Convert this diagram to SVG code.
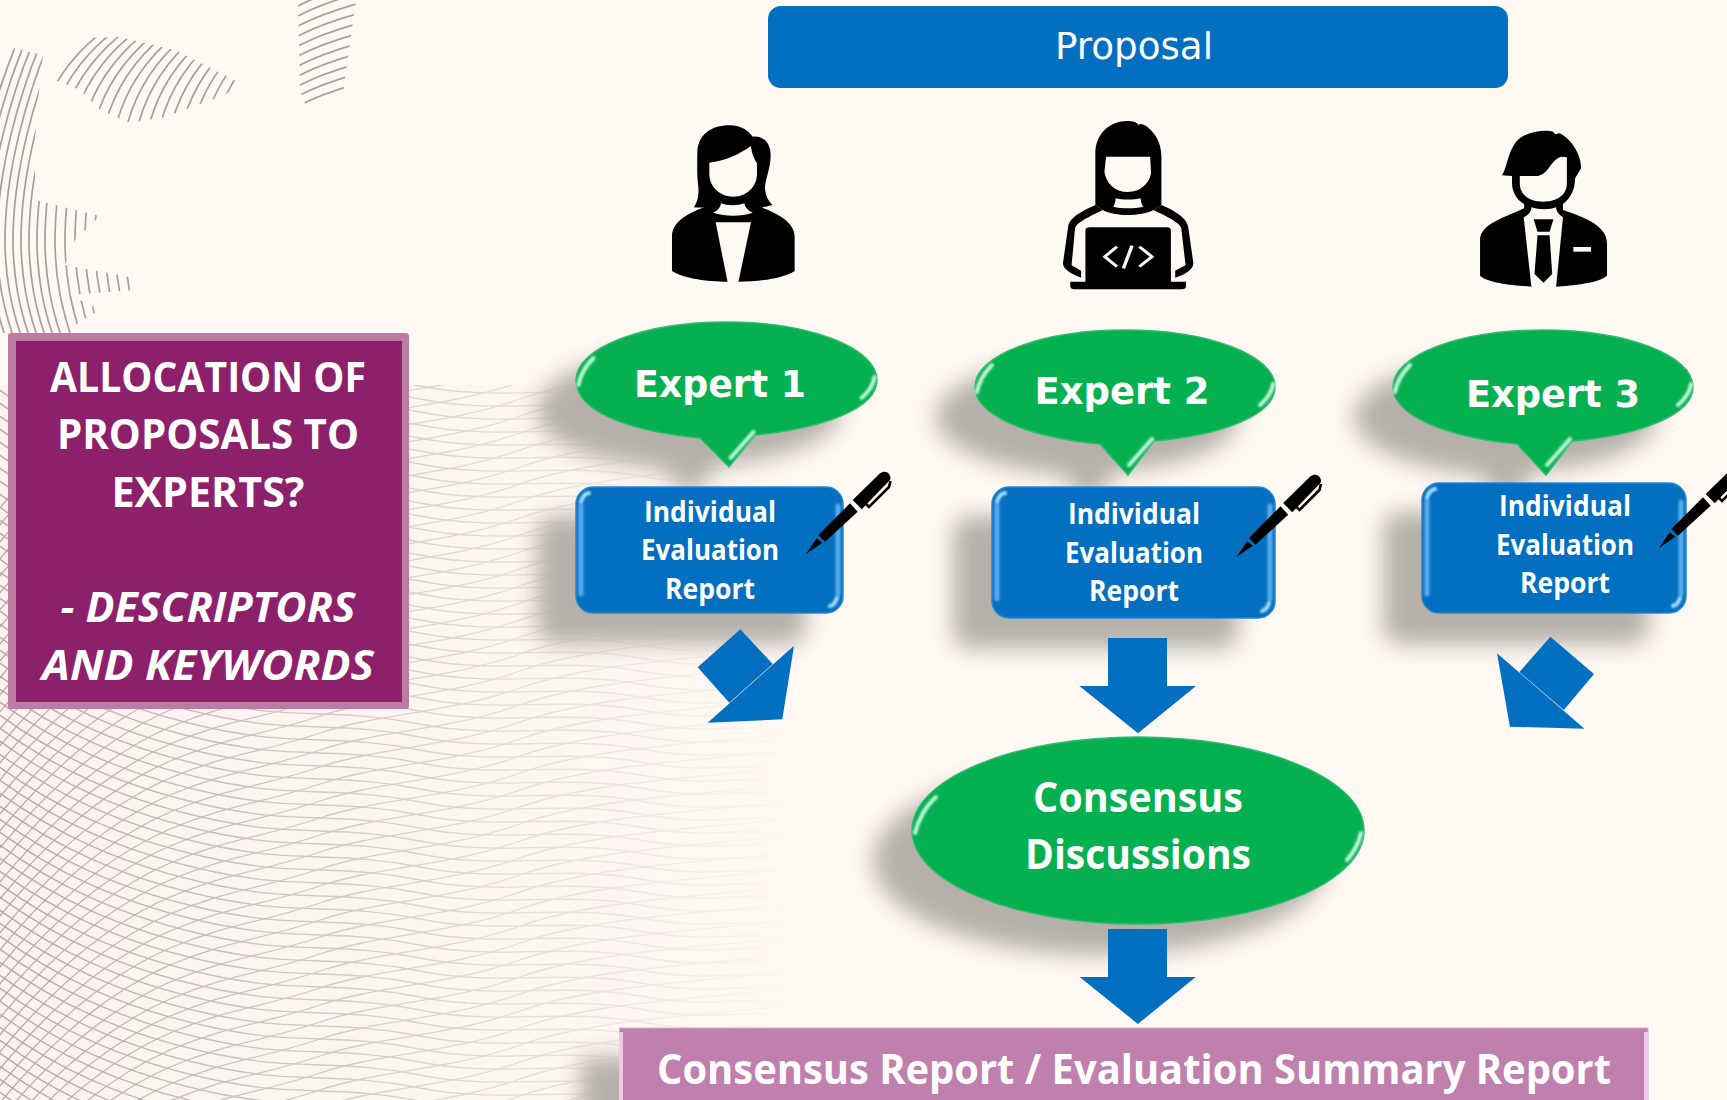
<svg xmlns="http://www.w3.org/2000/svg" xmlns:xlink="http://www.w3.org/1999/xlink" width="1727" height="1100" viewBox="0 0 1727 1100">
<style>
.sans{font-family:"Open Sans","Noto Sans","Liberation Sans",sans-serif;font-weight:700;fill:#fff;text-anchor:middle}
.dv{font-family:"DejaVu Sans","Verdana",sans-serif;fill:#fff;text-anchor:middle}
.ib{font-size:28px}
.ex{font-size:37px;font-weight:700}
.green{fill:#04B050;stroke:#2dbb6c;stroke-width:1.5;filter:url(#sh)}
.blue{fill:#026FC0;stroke:#2a85cb;stroke-width:1.5;filter:url(#sh)}
.arrow{fill:#026FC0}
.hl{fill:none;stroke:#c4f7da;stroke-width:4;stroke-linecap:round;filter:url(#soft)}
.hlb{fill:none;stroke:#5aacf0;stroke-width:5;stroke-linecap:round;filter:url(#soft)}
.hlc{fill:none;stroke:#a9dcff;stroke-width:4;stroke-linecap:round;filter:url(#soft)}
.hatch{fill:none;stroke:#a99c9e;stroke-width:1.7}
.mesh{fill:none;stroke:#b5a6a8;stroke-width:1.3}
</style>
<defs>
<filter id="sh" x="-30%" y="-40%" width="150%" height="190%" color-interpolation-filters="sRGB">
<feGaussianBlur in="SourceAlpha" stdDeviation="11" result="b"/>
<feOffset in="b" dx="-38" dy="30" result="o"/>
<feFlood flood-color="#b5b0aa"/>
<feComposite in2="o" operator="in" result="s"/>
<feMerge><feMergeNode in="s"/><feMergeNode in="SourceGraphic"/></feMerge>
</filter>
<filter id="soft" x="-30%" y="-30%" width="160%" height="160%"><feGaussianBlur stdDeviation="0.8"/></filter>
<linearGradient id="fade" gradientUnits="userSpaceOnUse" x1="0" y1="0" x2="800" y2="0">
<stop offset="0" stop-color="#fff"/><stop offset="0.35" stop-color="#fff" stop-opacity=".62"/><stop offset="0.7" stop-color="#fff" stop-opacity=".28"/><stop offset="1" stop-color="#fff" stop-opacity="0"/>
</linearGradient>
<linearGradient id="tint" gradientUnits="userSpaceOnUse" x1="0" y1="0" x2="820" y2="0">
<stop offset="0" stop-color="#fdf2ef"/><stop offset="1" stop-color="#fff8f3"/>
</linearGradient>
<mask id="meshMask" maskUnits="userSpaceOnUse" x="0" y="385" width="800" height="715"><rect x="0" y="385" width="800" height="715" fill="url(#fade)"/></mask>
<clipPath id="hatchA"><path d="M0,45 L43,55 L40,80 L35,140 L35,200 L100,216 L75,240 L65,265 L135,278 L135,290 L70,295 L100,310 L75,325 L75,333 L0,333 Z"/></clipPath>
<clipPath id="hatchB"><path d="M50,55 L75,38 L120,37 L175,50 L240,83 L225,95 L165,117 L130,123 L100,110 L80,90 L50,78 Z"/></clipPath>
<clipPath id="hatchC"><path d="M298,0 L356,0 L343,93 L308,112 L300,90 Z"/></clipPath>
<path id="ma" d="M-10,0 C50,45 120,80 220,100 C300,116 340,104 420,120 S560,118 640,132 S740,130 800,140"/>
<path id="mb" d="M-10,0 C30,-50 90,-115 170,-150 C230,-175 260,-175 320,-195 S450,-215 520,-240 S700,-270 800,-280"/>
<g id="ma8"><use xlink:href="#ma"/><use xlink:href="#ma" y="13"/><use xlink:href="#ma" y="26"/><use xlink:href="#ma" y="39"/><use xlink:href="#ma" y="52"/><use xlink:href="#ma" y="65"/><use xlink:href="#ma" y="78"/><use xlink:href="#ma" y="91"/></g>
<g id="mb8"><use xlink:href="#mb"/><use xlink:href="#mb" y="17"/><use xlink:href="#mb" y="34"/><use xlink:href="#mb" y="51"/><use xlink:href="#mb" y="68"/><use xlink:href="#mb" y="85"/><use xlink:href="#mb" y="102"/><use xlink:href="#mb" y="119"/></g>
<path id="arcA" d="M50,40 C25,100 5,175 5,240 C5,280 12,310 24,345"/>
<path id="arcB" d="M0,90 C10,55 30,25 62,0"/>
<path id="arcC" d="M298,24 C315,15 335,8 356,2"/>
<g id="pen">
<path d="M0,0 L10.7,-15.7 L16.3,-11.3 Z"/>
<path d="M12.3,-19 L44,-50.7 L51.7,-42.3 L19,-12.3 Z"/>
<path d="M46.7,-54 L74,-80.7 C77,-83 81,-83 83,-80 C85,-77 85,-75 83,-73 L55.7,-44.7 Z"/>
<path d="M84.500,-73 L83,-67 L63,-47 L60,-50" fill="none" stroke="#000" stroke-width="2.6"/>
</g>
<g id="bevelE">
<path class="hl" d="M-148,5 C-146,-6 -140,-15 -133,-22"/>
<path class="hl" d="M135,18 C142,12 147,4 148,-3"/>
<path class="hl" d="M4,78 L27,52"/>
</g>
</defs>

<g id="background">
<rect width="1727" height="1100" fill="#fff8f3"/>
<rect x="0" y="385" width="820" height="715" fill="url(#tint)"/>
<g class="mesh" mask="url(#meshMask)">
<use xlink:href="#ma8" y="240"/><use xlink:href="#ma8" y="344"/><use xlink:href="#ma8" y="448"/><use xlink:href="#ma8" y="552"/><use xlink:href="#ma8" y="656"/><use xlink:href="#ma8" y="760"/><use xlink:href="#ma8" y="864"/><use xlink:href="#ma8" y="968"/><use xlink:href="#ma8" y="1072"/>
<use xlink:href="#mb8" y="520"/><use xlink:href="#mb8" y="656"/><use xlink:href="#mb8" y="792"/><use xlink:href="#mb8" y="928"/><use xlink:href="#mb8" y="1064"/><use xlink:href="#mb8" y="1200"/><use xlink:href="#mb8" y="1336"/>
</g>
<g class="hatch" clip-path="url(#hatchA)">
<use xlink:href="#arcA" x="-32"/><use xlink:href="#arcA" x="-24"/><use xlink:href="#arcA" x="-16"/><use xlink:href="#arcA" x="-8"/><use xlink:href="#arcA"/><use xlink:href="#arcA" x="8"/><use xlink:href="#arcA" x="16"/><use xlink:href="#arcA" x="24"/><use xlink:href="#arcA" x="32"/><use xlink:href="#arcA" x="40"/><use xlink:href="#arcA" x="50"/><use xlink:href="#arcA" x="60"/><use xlink:href="#arcA" x="70"/><use xlink:href="#arcA" x="80"/><use xlink:href="#arcA" x="90"/><use xlink:href="#arcA" x="100"/><use xlink:href="#arcA" x="110"/><use xlink:href="#arcA" x="120"/>
</g>
<g class="hatch" clip-path="url(#hatchB)">
<use xlink:href="#arcB" x="40" y="32"/><use xlink:href="#arcB" x="51" y="32"/><use xlink:href="#arcB" x="62" y="32"/><use xlink:href="#arcB" x="73" y="32"/><use xlink:href="#arcB" x="84" y="32"/><use xlink:href="#arcB" x="95" y="32"/><use xlink:href="#arcB" x="106" y="32"/><use xlink:href="#arcB" x="117" y="32"/><use xlink:href="#arcB" x="128" y="32"/><use xlink:href="#arcB" x="139" y="32"/><use xlink:href="#arcB" x="150" y="32"/><use xlink:href="#arcB" x="161" y="32"/><use xlink:href="#arcB" x="172" y="32"/><use xlink:href="#arcB" x="183" y="32"/><use xlink:href="#arcB" x="194" y="32"/><use xlink:href="#arcB" x="205" y="32"/><use xlink:href="#arcB" x="216" y="32"/>
</g>
<g class="hatch" clip-path="url(#hatchC)">
<use xlink:href="#arcC" y="-18"/><use xlink:href="#arcC" y="-8"/><use xlink:href="#arcC" y="2"/><use xlink:href="#arcC" y="12"/><use xlink:href="#arcC" y="22"/><use xlink:href="#arcC" y="32"/><use xlink:href="#arcC" y="42"/><use xlink:href="#arcC" y="52"/><use xlink:href="#arcC" y="62"/><use xlink:href="#arcC" y="72"/><use xlink:href="#arcC" y="82"/>
</g>
</g>

<g id="node-title">
<rect x="8" y="333" width="401" height="376" rx="3" fill="#BC7BA0"/>
<rect x="16" y="341" width="386" height="361" fill="#8D206B"/>
<g class="sans" style="font-size:42px">
<text x="208" y="392" textLength="316" lengthAdjust="spacingAndGlyphs">ALLOCATION OF</text>
<text x="208" y="449" textLength="302" lengthAdjust="spacingAndGlyphs">PROPOSALS TO</text>
<text x="208" y="507" textLength="193" lengthAdjust="spacingAndGlyphs">EXPERTS?</text>
<text x="208" y="622" textLength="295" lengthAdjust="spacingAndGlyphs" font-style="italic">- DESCRIPTORS</text>
<text x="208" y="680" textLength="332" lengthAdjust="spacingAndGlyphs" font-style="italic">AND KEYWORDS</text>
</g>
</g>

<g id="node-proposal">
<rect x="768" y="6" width="740" height="82" rx="13" fill="#026FC0"/>
<text class="dv" x="1134" y="59" font-size="38" textLength="158" lengthAdjust="spacingAndGlyphs">Proposal</text>
</g>

<g id="icon-expert-1" transform="translate(560,100) scale(.3333)">
<path d="M412,160 C412,100 460,75 510,76 C545,77 565,92 578,110 C605,105 632,125 632,165 C632,205 615,240 615,265 C617,290 627,305 637,315 C625,319 615,320 605,322 C650,340 704,365 704,410 L704,513 C670,535 600,545 535,545 L503,545 C440,545 370,535 336,513 L336,410 C336,365 385,340 432,322 C420,323 410,323 402,322 C412,305 417,290 415,260 C410,220 412,190 412,160 Z"/>
<path fill="#fff8f3" d="M448,188 C495,182 535,165 573,138 C575,160 582,175 591,190 L591,222 C591,260 560,290 520,290 C480,290 448,260 448,222 Z"/>
<path fill="#fff8f3" d="M483,310 C500,318 535,318 553,310 C555,322 565,333 578,338 C545,350 495,350 460,338 C472,333 482,322 483,310 Z"/>
<path fill="#fff8f3" d="M467,367 L573,367 L535,547 L503,547 Z"/>
</g>

<g id="icon-expert-2" transform="translate(1050,100) scale(.4318,.3333)">
<path d="M105,160 C105,100 140,62 180,63 C190,63 200,65 205,75 C210,70 215,72 225,80 C245,100 258,130 258,170 L258,315 L240,330 C210,350 150,350 122,330 L105,315 Z"/>
<path d="M105,315 C80,330 45,350 42,380 L30,490 C30,510 55,525 72,533 L72,512 L50,496 L58,385 C62,365 100,345 122,330 Z"/>
<path d="M258,315 C285,330 315,350 320,380 L332,490 C332,510 310,525 290,533 L290,512 L314,496 L304,385 C300,365 262,345 240,330 Z"/>
<path fill="#fff8f3" d="M130,170 L232,170 L234,220 C230,250 210,276 180,276 C150,276 130,250 126,215 Z"/>
<path fill="#fff8f3" d="M152,295 C165,300 195,300 210,295 C210,305 212,312 216,320 C195,326 165,326 146,320 C150,312 152,305 152,295 Z"/>
<path d="M82,392 Q82,382 92,382 L270,382 Q280,382 280,392 L280,545 L315,545 L315,558 Q315,568 305,568 L57,568 Q47,568 47,558 L47,545 L82,545 Z"/>
<path fill="none" stroke="#fff8f3" stroke-width="8" d="M155,440 L127,470 L155,500 M190,437 L170,505 M207,440 L236,470 L207,500"/>
</g>

<g id="icon-expert-3" transform="translate(1050,100) scale(.4318,.3333)">
<path d="M1047,226 C1060,200 1060,150 1085,118 C1105,95 1145,88 1165,95 L1170,103 L1180,100 C1205,115 1230,160 1230,205 L1216,235 C1216,270 1205,295 1188,312 L1188,330 C1220,345 1290,370 1290,430 L1290,527 C1270,550 1210,556 1172,560 L1115,560 C1075,556 1015,550 996,527 L996,420 C996,370 1060,350 1098,325 L1098,312 C1085,305 1070,280 1070,250 L1070,228 Z"/>
<path fill="#fff8f3" d="M1088,228 L1125,228 C1155,228 1160,175 1185,170 L1197,172 L1197,250 C1197,285 1175,305 1143,305 C1110,305 1088,285 1088,250 Z"/>
<path fill="#fff8f3" d="M1115,322 C1130,330 1160,330 1172,322 C1172,335 1180,345 1188,352 L1172,562 L1115,562 L1097,352 C1108,345 1115,335 1115,322 Z"/>
<path d="M1120,358 L1166,358 L1157,395 L1129,395 Z M1129,406 L1157,406 L1163,522 L1143,548 L1122,522 Z"/>
<rect x="1212" y="441" width="41" height="14" fill="#fff8f3"/>
</g>

<g id="node-expert-1">
<path class="green" d="M700,438 C625,431 576,410 576,380 C576,348 643,322 726.500,322 C810,322 877,348 877,380 C877,408 825,428 755,435 L729,467 Z"/>
<use xlink:href="#bevelE" x="726.500" y="380"/>
<text class="dv ex" x="720" y="397" textLength="172" lengthAdjust="spacingAndGlyphs">Expert 1</text>
</g>
<g id="node-expert-2">
<path class="green" d="M1100,444 C1025,437 975,414 975,387 C975,355 1042,330 1125,330 C1208,330 1275,355 1275,387 C1275,414 1225,435 1154,441 L1128,475 Z"/>
<use xlink:href="#bevelE" x="1125" y="387"/>
<text class="dv ex" x="1122" y="404" textLength="175" lengthAdjust="spacingAndGlyphs">Expert 2</text>
</g>
<g id="node-expert-3">
<path class="green" d="M1517,444 C1443,437 1393,414 1393,387 C1393,355 1460,330 1543,330 C1626,330 1693,355 1693,387 C1693,414 1643,435 1572,441 L1546,475 Z"/>
<use xlink:href="#bevelE" x="1543" y="387"/>
<text class="dv ex" x="1553" y="407" textLength="174" lengthAdjust="spacingAndGlyphs">Expert 3</text>
</g>

<g id="node-report-1">
<rect class="blue" x="576" y="487" width="267" height="126" rx="17"/>
<path class="hlb" d="M581,506 V594 M838,506 V594"/>
<path class="hlc" d="M581,502 Q583,494 589,493 M837,598 Q835,605 830,606"/>
<g class="sans ib">
<text x="710" y="522" textLength="132" lengthAdjust="spacingAndGlyphs">Individual</text>
<text x="710" y="560" textLength="138" lengthAdjust="spacingAndGlyphs">Evaluation</text>
<text x="710" y="599" textLength="90" lengthAdjust="spacingAndGlyphs">Report</text>
</g>
</g>
<g id="node-report-2">
<rect class="blue" x="992" y="487" width="283" height="131" rx="17"/>
<path class="hlb" d="M997,506 V599 M1270,506 V599"/>
<path class="hlc" d="M997,502 Q999,494 1005,493 M1269,603 Q1267,610 1262,611"/>
<g class="sans ib">
<text x="1134" y="524" textLength="132" lengthAdjust="spacingAndGlyphs">Individual</text>
<text x="1134" y="563" textLength="138" lengthAdjust="spacingAndGlyphs">Evaluation</text>
<text x="1134" y="601" textLength="90" lengthAdjust="spacingAndGlyphs">Report</text>
</g>
</g>
<g id="node-report-3">
<rect class="blue" x="1422" y="483" width="264" height="130" rx="17"/>
<path class="hlb" d="M1427,502 V594 M1681,502 V594"/>
<path class="hlc" d="M1427,498 Q1429,490 1435,489 M1680,598 Q1678,605 1673,606"/>
<g class="sans ib">
<text x="1565" y="516" textLength="132" lengthAdjust="spacingAndGlyphs">Individual</text>
<text x="1565" y="555" textLength="138" lengthAdjust="spacingAndGlyphs">Evaluation</text>
<text x="1565" y="593" textLength="90" lengthAdjust="spacingAndGlyphs">Report</text>
</g>
</g>

<g id="pens">
<use xlink:href="#pen" x="806" y="554"/>
<use xlink:href="#pen" x="1236.500" y="557"/>
<use xlink:href="#pen" x="1659" y="548"/>
</g>

<g id="node-consensus">
<ellipse class="green" cx="1138" cy="830.500" rx="226" ry="93.500"/>
<path class="hl" d="M915,833 C918,820 926,806 936,797"/>
<path class="hl" d="M1347,860 C1354,852 1359,843 1361,833"/>
<g class="sans" style="font-size:42px">
<text x="1138" y="812" textLength="210" lengthAdjust="spacingAndGlyphs">Consensus</text>
<text x="1138" y="869" textLength="226" lengthAdjust="spacingAndGlyphs">Discussions</text>
</g>
</g>

<g id="node-final">
<rect x="619.500" y="1028" width="1028.500" height="90" fill="#C080AE" stroke="#dcaed0" stroke-width="1" filter="url(#sh)"/>
<path d="M621,1032 V1100 M1646,1032 V1100" stroke="#f0c8ea" stroke-width="4" fill="none"/>
<text class="sans" x="1134" y="1084" font-size="41" textLength="954" lengthAdjust="spacingAndGlyphs">Consensus Report / Evaluation Summary Report</text>
</g>

<g id="connectors">
<g class="arrow">
<polygon points="740.300,629.300 697.700,667.300 729.300,702.700 772.700,664"/>
<polygon points="794,645.700 782.300,719.300 707.700,722.700"/>
<rect x="1108" y="638" width="59" height="48"/>
<polygon points="1079.400,686 1196,686 1138,733.300"/>
<polygon points="1550.400,636.700 1594,674 1563.800,710 1519.400,672"/>
<polygon points="1497,653.300 1584.500,728.700 1509.900,726.700"/>
<rect x="1108" y="929" width="59" height="48"/>
<polygon points="1079.700,977 1195.700,977 1137.900,1024"/>
</g>
</g>
</svg>
